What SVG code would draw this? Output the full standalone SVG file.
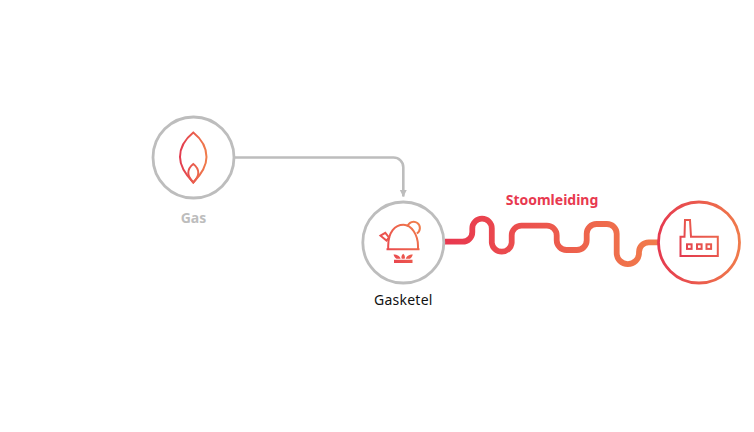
<svg xmlns="http://www.w3.org/2000/svg" width="754" height="432" viewBox="0 0 754 432">
<style>
text{font-family:"Noto Sans","Open Sans",sans-serif;text-anchor:middle}
.ring{fill:#fff;stroke:#bdbdbd;stroke-width:2.8}
.ico{fill:none;stroke-width:2;stroke-linejoin:miter}
.lbl{font-size:14px;font-weight:700}
</style>
<defs>
<linearGradient id="gF" gradientUnits="userSpaceOnUse" x1="179" y1="157" x2="207" y2="157"><stop offset="0" stop-color="#e2394f"/><stop offset="1" stop-color="#f07d4b"/></linearGradient>
<linearGradient id="gK" gradientUnits="userSpaceOnUse" x1="379" y1="260" x2="420" y2="225"><stop offset="0" stop-color="#e83a50"/><stop offset="1" stop-color="#f07d4b"/></linearGradient>
<linearGradient id="gP" gradientUnits="userSpaceOnUse" x1="445" y1="240" x2="658" y2="240"><stop offset="0" stop-color="#e8374f"/><stop offset="1" stop-color="#f17c4b"/></linearGradient>
<linearGradient id="gR" gradientUnits="userSpaceOnUse" x1="657" y1="242" x2="741" y2="242"><stop offset="0" stop-color="#e5394f"/><stop offset="1" stop-color="#f07c4b"/></linearGradient>
<linearGradient id="gB" gradientUnits="userSpaceOnUse" x1="680" y1="256" x2="718" y2="222"><stop offset="0" stop-color="#e2394f"/><stop offset="1" stop-color="#ee6f4c"/></linearGradient>
<marker id="arr" markerUnits="userSpaceOnUse" markerWidth="8" markerHeight="8" refX="6.6" refY="3.5" orient="auto"><path d="M0,0 L7,3.5 L0,7 Z" fill="#bdbdbd"/></marker>
</defs>
<rect width="754" height="432" fill="#fff"/>
<g id="connectors">
<path d="M235,157.5 H393.5 A9.8,9.8 0 0 1 403.3,167.3 V196.5" fill="none" stroke="#bdbdbd" stroke-width="2.6" marker-end="url(#arr)"/>
<path d="M445,241.7 H462.5 A9.8,9.8 0 0 0 472.3,231.9 V228.4 A9.75,9.75 0 0 1 491.8,228.4 V242.7 A10,10 0 0 0 511.7,242.7 V235.5 A9.8,9.8 0 0 1 521.5,225.7 H546.9 A9.8,9.8 0 0 1 556.7,235.5 V240.2 A9.8,9.8 0 0 0 566.5,250 H576.9 A9.8,9.8 0 0 0 586.7,240.2 V233.8 A9.8,9.8 0 0 1 596.5,224 H606.9 A9.8,9.8 0 0 1 616.7,233.8 V253 A11.15,11.15 0 0 0 639,253 V252.1 A9.8,9.8 0 0 1 648.8,242.3 H658" fill="none" stroke="url(#gP)" stroke-width="5.8"/>
</g>
<g id="node-gas">
<circle class="ring" cx="193.5" cy="157.5" r="40.5"/>
<path class="ico" stroke="url(#gF)" d="M193.3,132.5 C184,140 180,149 180,157 C180,166 186,175 193.3,182.5 C200.7,175 206.5,166 206.5,157 C206.5,149 202.6,140 193.3,132.5 Z"/>
<path class="ico" stroke="url(#gF)" d="M193.3,164 C190,166.5 188.3,170 188.3,173 C188.3,176.5 190.5,179.5 193.3,182.5 C196.1,179.5 198.3,176.5 198.3,173 C198.3,170 196.6,166.5 193.3,164 Z"/>
<text class="lbl" x="193.5" y="223" fill="#bdbdbd">Gas</text>
</g>
<g id="node-gasketel">
<circle class="ring" cx="403.3" cy="242.5" r="40.5"/>
<path class="ico" stroke="url(#gK)" d="M386.5,249.2 H419.5 M388.2,249.2 V246 C388.2,232 395,224.8 403.5,224.8 C411.5,224.8 418,235 418,246 V249.2"/>
<path class="ico" stroke="url(#gK)" d="M407.5,226.5 A6.3,6.3 0 1 1 416.8,233.5"/>
<path class="ico" stroke="url(#gK)" d="M380.5,235.7 L385.3,232.8 L389,237.5 L386.5,240.6 Z"/>
<path fill="url(#gK)" d="M394,259.8 H412.5 V263 H394 Z M393.5,254.5 C396.5,254.5 399.8,255.8 400.6,258.8 H396.5 C395,257.8 394,256.3 393.5,254.5 Z M403.2,253.8 C405,255.4 405.3,257.3 404.6,258.8 H401.8 C401,257.3 401.4,255.4 403.2,253.8 Z M412.8,254.5 C412.3,256.3 411.4,257.8 409.9,258.8 H405.8 C406.6,255.8 409.8,254.5 412.8,254.5 Z"/>
<text x="403.3" y="305" font-size="14" letter-spacing="0.25" fill="#111">Gasketel</text>
</g>
<g id="node-stoomleiding">
<text class="lbl" x="552" y="205" fill="#e8394f">Stoomleiding</text>
</g>
<g id="node-factory">
<circle cx="699" cy="242.5" r="40.5" fill="#fff" stroke="url(#gR)" stroke-width="2.8"/>
<path class="ico" stroke="url(#gB)" d="M680.5,236.8 H684.5 L685,220 H690 L691,236.8 H717.8 V256 H680.5 Z"/>
<rect class="ico" stroke="url(#gB)" x="687" y="244.3" width="4.6" height="4.6"/>
<rect class="ico" stroke="url(#gB)" x="697" y="244.3" width="4.6" height="4.6"/>
<rect class="ico" stroke="url(#gB)" x="706.5" y="244.3" width="4.6" height="4.6"/>
</g>
</svg>
